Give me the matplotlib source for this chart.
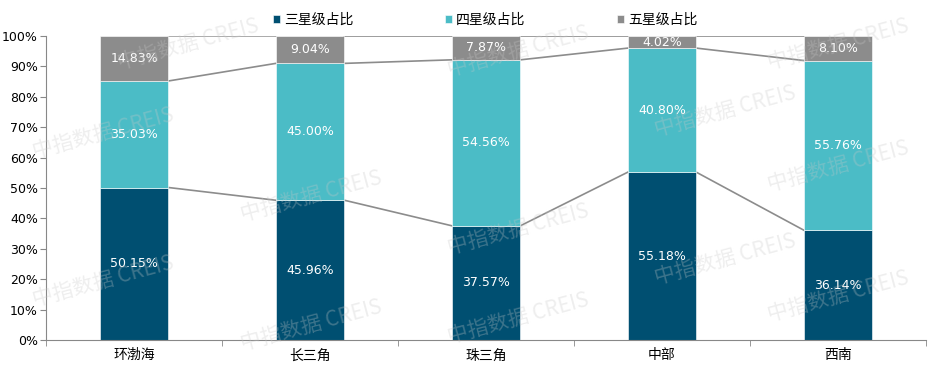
import matplotlib.pyplot as plt
import numpy as np

plt.rcParams['font.family'] = ['Noto Sans CJK SC', 'DejaVu Sans']

regions = ["环渤海", "长三角", "珠三角", "中部", "西南"]
three_star = [50.15, 45.96, 37.57, 55.18, 36.14]
four_star = [35.03, 45.00, 54.56, 40.80, 55.76]
five_star = [14.83, 9.04, 7.87, 4.02, 8.10]
series_names = ["三星级占比", "四星级占比", "五星级占比"]
colors = ["#004F71", "#4BBCC6", "#8C8C8C"]

fig = plt.figure(figsize=(9.42, 3.70), dpi=100)
ax = fig.add_axes([0.049, 0.081, 0.934, 0.822])

x = np.arange(len(regions))
w = 0.39
bottoms = np.zeros(len(regions))
for vals, name, c in zip([three_star, four_star, five_star], series_names, colors):
    vals = np.array(vals)
    ax.bar(x, vals, w, bottom=bottoms, color=c, label=name,
           edgecolor="white", linewidth=0.4, zorder=2)
    for xi, b, v in zip(x, bottoms, vals):
        ax.text(xi, b + v / 2, f"{v:.2f}%", ha="center", va="center",
                color="white", fontsize=9, family="DejaVu Sans", zorder=4)
    tops = bottoms + vals
    # series lines between bars
    for i in range(len(regions) - 1):
        ax.plot([x[i] + w / 2, x[i + 1] - w / 2], [tops[i], tops[i + 1]],
                color="#8C8C8C", linewidth=1.2, zorder=1)
    bottoms = tops

ax.set_xlim(-0.5, len(regions) - 0.5)
ax.set_ylim(0, 100)
ax.set_yticks(np.arange(0, 101, 10))
ax.set_yticklabels([f"{v}%" for v in range(0, 101, 10)], fontsize=9,
                   family="DejaVu Sans")
ax.set_xticks(x)
ax.set_xticklabels(regions, fontsize=10)
ax.set_xticks(np.arange(-0.5, len(regions), 1), minor=True)
ax.tick_params(axis="x", which="major", length=0, pad=6)
ax.tick_params(axis="x", which="minor", length=4, color="#888888")
ax.tick_params(axis="y", length=4, color="#888888", pad=2)
for s in ["top", "right"]:
    ax.spines[s].set_visible(False)
ax.spines["left"].set_color("#888888")
ax.spines["bottom"].set_color("#888888")

leg = fig.legend(loc="upper center", bbox_to_anchor=(0.515, 1.0), ncol=3,
                 frameon=False, fontsize=10, handlelength=0.5, handleheight=0.5,
                 columnspacing=6.6, handletextpad=0.3)

# watermarks
wm_pos = [(0.20, 0.88), (0.11, 0.64), (0.33, 0.47), (0.55, 0.38),
          (0.77, 0.70), (0.89, 0.55), (0.11, 0.24), (0.33, 0.12),
          (0.55, 0.14), (0.77, 0.30), (0.89, 0.20), (0.55, 0.86), (0.89, 0.88)]
for px, py in wm_pos:
    fig.text(px, py, "中指数据 CREIS", fontsize=15, color="#C8C8C8", alpha=0.3,
             rotation=15, ha="center", va="center", zorder=10)

fig.savefig("out.png", dpi=100)
